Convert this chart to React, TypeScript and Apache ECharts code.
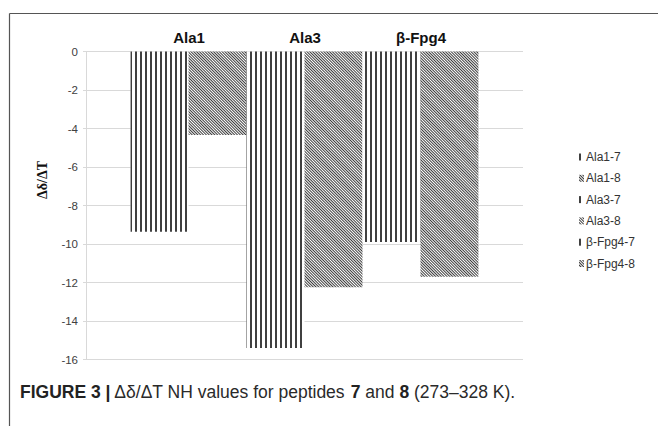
import React, { useEffect, useRef } from "react";
import * as echarts from "echarts";

const groups = ["Ala1", "Ala3", "β-Fpg4"];
const seriesNames = ["Ala1-7", "Ala1-8", "Ala3-7", "Ala3-8", "β-Fpg4-7", "β-Fpg4-8"];
const seriesValues = [-9.36, -4.34, -15.4, -12.25, -9.9, -11.7];
const yTicks = { min: -16, max: 0, interval: 2 };
const yTitle = "Δδ/ΔT";

const vertDecal = {
  symbol: "rect",
  symbolSize: 1,
  dashArrayX: [1.6, 2.5],
  dashArrayY: [4, 0],
  color: "#404040",
  rotation: 0,
};
const diagDecal = {
  symbol: "rect",
  symbolSize: 1,
  dashArrayX: [1, 1],
  dashArrayY: [4, 0],
  color: "#3c3c3c",
  rotation: -Math.PI / 4,
};

export default function App() {
  const ref = useRef<HTMLDivElement>(null);
  useEffect(() => {
    const chart = echarts.init(ref.current!, null, { renderer: "svg" });
    const option: any = {
      animation: false,
      backgroundColor: "#fff",
      grid: [
        { left: 86, right: 135, top: 51.5, bottom: 66.5 },
        { left: 131, right: 179, top: 51.5, bottom: 66.5 },
      ],
      xAxis: [
        {
          type: "category",
          gridIndex: 0,
          data: [""],
          axisLine: { show: false },
          axisTick: { show: false },
          axisLabel: { show: false },
        },
        {
          type: "category",
          gridIndex: 1,
          position: "top",
          data: groups,
          axisLine: { show: false },
          axisTick: { show: false },
          axisLabel: {
            margin: 7,
            fontFamily: "Liberation Sans, Arial, sans-serif",
            fontWeight: "bold",
            fontSize: 15,
            color: "#111",
          },
        },
      ],
      yAxis: [
        {
          type: "value",
          gridIndex: 0,
          min: yTicks.min,
          max: yTicks.max,
          interval: yTicks.interval,
          axisLine: { show: true, lineStyle: { color: "#d9d9d9", width: 1 } },
          axisTick: { show: true, length: 3, lineStyle: { color: "#d9d9d9" } },
          splitLine: { show: true, lineStyle: { color: "#d9d9d9", width: 1 } },
          axisLabel: {
            margin: 8,
            fontFamily: "Liberation Sans, Arial, sans-serif",
            fontSize: 11.5,
            color: "#404040",
          },
        },
        {
          type: "value",
          gridIndex: 1,
          show: false,
          min: yTicks.min,
          max: yTicks.max,
        },
      ],
      legend: {
        orient: "vertical",
        left: 574,
        top: 146,
        itemWidth: 5,
        itemHeight: 7,
        itemGap: 9.3,
        icon: "rect",
        textStyle: {
          fontFamily: "Liberation Sans, Arial, sans-serif",
          fontSize: 12,
          color: "#333",
          padding: [0, 0, 0, -3],
        },
        data: seriesNames,
      },
      series: seriesNames.map((name, i) => ({
        name,
        type: "bar",
        xAxisIndex: 0,
        yAxisIndex: 0,
        barGap: "0%",
        barCategoryGap: "20.4%",
        data: [seriesValues[i]],
        itemStyle: {
          color: "#fff",
          decal: i % 2 === 0 ? vertDecal : diagDecal,
        },
      })),
      graphic: [
        {
          type: "line",
          shape: { x1: 9.5, y1: 13.5, x2: 658, y2: 13.5 },
          style: { stroke: "#555", lineWidth: 1.2 },
        },
        {
          type: "line",
          shape: { x1: 9.5, y1: 13.5, x2: 9.5, y2: 426 },
          style: { stroke: "#555", lineWidth: 1.2 },
        },
        {
          type: "text",
          x: 42,
          y: 180,
          rotation: Math.PI / 2,
          style: {
            text: yTitle,
            fontFamily: "Liberation Serif, Times New Roman, serif",
            fontWeight: "bold",
            fontSize: 14,
            fill: "#111",
            align: "center",
            verticalAlign: "middle",
          },
        },
        {
          type: "text",
          x: 20,
          y: 392,
          style: {
            text: "{b|FIGURE 3 |} Δδ/ΔT NH values for peptides {b|7} and {b|8} (273–328 K).",
            fontFamily: "Liberation Sans, Arial, sans-serif",
            fontSize: 17.5,
            fill: "#2a2a2a",
            verticalAlign: "middle",
            rich: {
              b: {
                fontFamily: "Liberation Sans, Arial, sans-serif",
                fontWeight: "bold",
                fontSize: 17.5,
                fill: "#222",
              },
            },
          },
        },
      ],
    };
    chart.setOption(option);
    return () => chart.dispose();
  }, []);
  return (
    <div
      ref={ref}
      style={{ position: "absolute", left: 0, top: 0, width: 658, height: 426 }}
    />
  );
}
